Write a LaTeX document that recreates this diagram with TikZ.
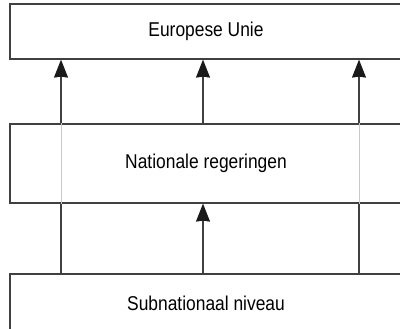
\documentclass[tikz,border=0pt]{standalone}
\usepackage{fontspec}
\setmainfont{Liberation Sans}[FakeStretch=0.87]
\usetikzlibrary{arrows.meta}
\definecolor{boxline}{HTML}{404040}
\definecolor{thru}{HTML}{C8C8C8}
\definecolor{tip}{HTML}{1A1A1A}
\tikzset{level/.style={draw=boxline,line width=1.2pt,fill=white,minimum width=392pt,inner sep=0pt,font=\fontsize{20}{24}\selectfont},
link/.style={boxline,line width=1.1pt},
up/.style={link,-{Stealth[width=14pt,length=18pt,inset=1pt,color=tip]}}}
\begin{document}
\begin{tikzpicture}[x=1pt,y=-1pt]
\useasboundingbox(0,0) rectangle (400,329);
\clip(0,0) rectangle (400,329);
\fill[white](0,0) rectangle (400,329);
\node[level,minimum height=55pt] (eu) at (206,31.5) {Europese Unie};
\node[level,minimum height=79pt] (nat) at (206,163.5) {Nationale regeringen};
\node[level,minimum height=58pt] (sub) at (206,303) {Subnationaal niveau};
\foreach \dx in {-145,153}{\draw[link]([xshift=\dx pt]sub.north)--([xshift=\dx pt]nat.south);\draw[thru,line width=1pt]([xshift=\dx pt]nat.south)--([xshift=\dx pt]nat.north);\draw[up]([xshift=\dx pt]nat.north)--([xshift=\dx pt]eu.south);}
\draw[up]([xshift=-3pt]sub.north)--([xshift=-3pt]nat.south);
\draw[up]([xshift=-3pt]nat.north)--([xshift=-3pt]eu.south);
\end{tikzpicture}
\end{document}
